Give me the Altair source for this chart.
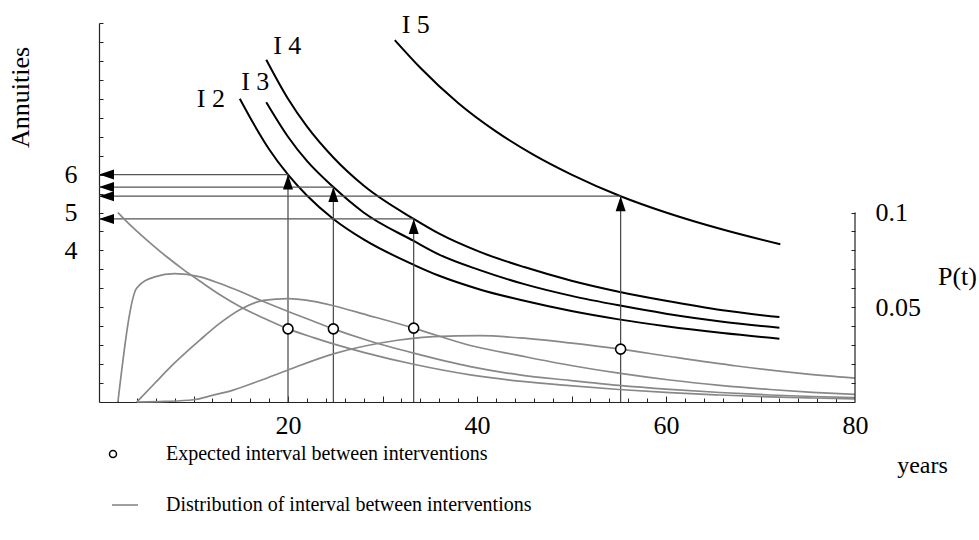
import altair as alt
import pandas as pd

FONT = "Liberation Serif"

# ---------------- data ----------------
curve_names = ["I 2", "I 3", "I 4", "I 5"]

# annuity curves (left axis)
i2_t = [14.9, 16, 18, 20, 22, 24.8, 28, 33.3, 36, 40.3, 45, 50, 55, 60, 66, 72]
i2_a = [8.0, 7.5, 6.67, 6.0, 5.45, 4.83, 4.29, 3.62, 3.33, 2.97, 2.67, 2.4, 2.18, 2.0, 1.82, 1.67]
i3_t = [17.7, 20, 22, 24.8, 28, 33.3, 36, 40.3, 45, 50, 55, 60, 66, 72]
i3_a = [7.91, 7.0, 6.36, 5.67, 5.0, 4.25, 3.89, 3.48, 3.11, 2.8, 2.55, 2.33, 2.12, 1.96]
i4_t = [17.7, 20, 22, 24.8, 28, 33.3, 36, 40.3, 45, 50, 55, 60, 66, 72]
i4_a = [9.03, 8.0, 7.27, 6.45, 5.71, 4.83, 4.44, 3.96, 3.56, 3.2, 2.91, 2.67, 2.42, 2.24]
i5_t = [31.3, 34, 38, 42, 46, 50, 55.2, 60, 66, 72.1]
i5_a = [9.55, 8.82, 7.89, 7.14, 6.52, 6.0, 5.43, 5.0, 4.55, 4.16]

# distributions of interval (right axis)
g2_t = [2, 3.6, 5.4, 7.2, 8.9, 10.7, 12.8, 14.9, 17.4, 20, 22.7, 24.8, 28.3, 33.3, 39.3, 44.5, 49.8, 55, 60.4, 65.7, 71, 75.5, 80]
g2_p = [0.100, 0.092, 0.084, 0.0765, 0.070, 0.0637, 0.0566, 0.0504, 0.0443, 0.0386, 0.034, 0.0307, 0.0258, 0.0199,
        0.0143, 0.0110, 0.0086, 0.0066, 0.0049, 0.0037, 0.0027, 0.0021, 0.0016]
g3_t = [2, 4.0, 5.9, 8.0, 10.7, 12.8, 14.9, 17.4, 20, 22.7, 24.8, 28.3, 33.3, 39.3, 44.5, 49.8, 55, 60.4, 65.7, 71, 75.5, 80]
g3_p = [0, 0.0602, 0.066, 0.0677, 0.066, 0.0625, 0.0584, 0.053, 0.0478, 0.0426, 0.0386, 0.0327, 0.0258, 0.0187,
        0.0143, 0.0114, 0.0088, 0.0067, 0.005, 0.0037, 0.0029, 0.0023]
g4_t = [4.0, 5.9, 8.0, 10.7, 12.8, 14.9, 17.4, 20, 22.7, 24.8, 28.3, 33.3, 39.3, 44.5, 49.8, 55, 60.4, 65.7, 71, 75.5, 80]
g4_p = [0, 0.0099, 0.0206, 0.0328, 0.0416, 0.0487, 0.0536, 0.0545, 0.0531, 0.0508, 0.046, 0.039, 0.0298, 0.0245,
        0.0194, 0.0152, 0.0116, 0.0088, 0.0066, 0.0051, 0.0040]
g5_t = [4.0, 7.0, 10.0, 12.0, 14.2, 17.0, 20, 24.8, 30.1, 35.4, 40.3, 44.6, 49.8, 55.2, 60.4, 67.5, 74.5, 80]
g5_p = [0, 0.0003, 0.0012, 0.0035, 0.0063, 0.0112, 0.0169, 0.0254, 0.0314, 0.0345, 0.0350, 0.0338, 0.0312,
        0.0279, 0.0240, 0.0190, 0.0150, 0.0126]

# expected intervals
mean_t = [20.0, 24.8, 33.3, 55.2]
mean_p = [0.0386, 0.0386, 0.039, 0.0279]
mean_a = [6.0, 5.67, 4.83, 5.43]

x_labels = [20, 40, 60, 80]
left_labels = [4, 5, 6]
right_labels = [0.05, 0.1]
legend_point = "Expected interval between interventions"
legend_line = "Distribution of interval between interventions"

# ---------------- tables ----------------
def frame(name, ts, vs, col):
    return pd.DataFrame({"curve": name, "t": ts, col: vs})

annu_df = pd.concat([frame(n, t, a, "a") for n, t, a in
                     zip(curve_names, [i2_t, i3_t, i4_t, i5_t], [i2_a, i3_a, i4_a, i5_a])], ignore_index=True)
dist_df = pd.concat([frame(n, t, p, "p") for n, t, p in
                     zip(curve_names, [g2_t, g3_t, g4_t, g5_t], [g2_p, g3_p, g4_p, g5_p])], ignore_index=True)
dist_df["kind"] = legend_line
mean_df = pd.DataFrame({"curve": curve_names, "t": mean_t, "p": mean_p, "a": mean_a, "mk": legend_point})
frame_df = pd.DataFrame({"t": [x_labels[-1]], "lo": [0.0], "hi": [right_labels[-1]]})

X = alt.Scale(domain=[0, 80], nice=False, zero=False)
YA = alt.Scale(domain=[0, 10], nice=False)
YP = alt.Scale(domain=[0, 0.2], nice=False)

x_minor = list(range(2, 80, 2))
x_major = list(range(10, 80, 10))
left_minor = [k / 2 for k in range(1, 21)]
right_minor = [k / 100 for k in range(1, 11)]

UP = "M0,0L-0.667,2L0.667,2Z"
LEFT = "M0,0L2,-0.667L2,0.667Z"

# ---------------- annuity layers ----------------
black = alt.Chart(annu_df).mark_line(color="black", strokeWidth=2, interpolate="monotone").encode(
    x=alt.X("t:Q", scale=X, axis=alt.Axis(
        orient="bottom", values=x_labels, tickSize=0, labelPadding=10, labelFlush=False,
        domain=True, title="years", titleX=823, titleY=63, titleAngle=0, titleFontSize=24,
        titleAlign="center", titleBaseline="middle")),
    y=alt.Y("a:Q", scale=YA, axis=alt.Axis(
        orient="left", values=left_labels, tickSize=0, labelPadding=22, domain=True,
        title="Annuities", titleAngle=270, titleX=-79, titleY=74,
        titleAlign="center", titleBaseline="middle")),
    detail="curve:N",
)

vrule = alt.Chart(mean_df).transform_calculate(zero="0").mark_rule(color="#444444", strokeWidth=1.2).encode(
    x=alt.X("t:Q", scale=X, axis=alt.Axis(orient="bottom", values=x_minor, tickSize=4, offset=-4,
                                          labels=False, domain=False, title=None)),
    y=alt.Y("zero:Q", scale=YA, axis=alt.Axis(orient="left", values=left_minor, tickSize=4, offset=-4,
                                              labels=False, domain=False, title=None)),
    y2="a:Q",
)

hrule = alt.Chart(mean_df).transform_calculate(zero="0").mark_rule(color="#555555", strokeWidth=1.2).encode(
    x=alt.X("zero:Q", scale=X, axis=alt.Axis(orient="bottom", values=x_major, tickSize=6, offset=-6,
                                             labels=False, domain=False, title=None)),
    x2="t:Q",
    y=alt.Y("a:Q", scale=YA, axis=None),
)

up = alt.Chart(mean_df).mark_point(shape=UP, size=225, filled=True, color="black", opacity=1).encode(
    x=alt.X("t:Q", scale=X, axis=None), y=alt.Y("a:Q", scale=YA, axis=None))

left = alt.Chart(mean_df).transform_calculate(zero="0").mark_point(
    shape=LEFT, size=225, filled=True, color="black", opacity=1).encode(
    x=alt.X("zero:Q", scale=X, axis=None), y=alt.Y("a:Q", scale=YA, axis=None))

label_offsets = {"I 2": (-29, 0), "I 3": (-11, -20), "I 4": (21, -14), "I 5": (21, -15)}
label_layers = []
for n, ts, as_ in zip(curve_names, [i2_t, i3_t, i4_t, i5_t], [i2_a, i3_a, i4_a, i5_a]):
    dx, dy = label_offsets[n]
    label_layers.append(
        alt.Chart(pd.DataFrame({"t": [ts[0]], "a": [as_[0]], "name": [n]})).mark_text(
            font=FONT, fontSize=26, color="black", dx=dx, dy=dy, align="center", baseline="middle"
        ).encode(x=alt.X("t:Q", scale=X, axis=None), y=alt.Y("a:Q", scale=YA, axis=None), text="name:N")
    )

annu = alt.layer(black, vrule, hrule, up, left, *label_layers).resolve_axis(x="independent", y="independent")

# ---------------- probability layers ----------------
gray = alt.Chart(dist_df).mark_line(strokeWidth=1.7, interpolate="monotone").encode(
    x=alt.X("t:Q", scale=X, axis=None),
    y=alt.Y("p:Q", scale=YP, axis=alt.Axis(
        orient="right", values=right_labels, format="~g", tickSize=0, labelPadding=20, domain=False,
        title="P(t)", titleAngle=0, titleX=102, titleY=253, titleAlign="center", titleBaseline="middle")),
    color=alt.Color("kind:N", scale=alt.Scale(range=["#888888"]), legend=alt.Legend(
        orient="none", legendX=12, legendY=468, title=None, symbolType="stroke", symbolSize=676,
        symbolStrokeWidth=1.6, labelOffset=27, padding=0)),
    detail="curve:N",
)

circles = alt.Chart(mean_df).mark_point(shape="circle", filled=False, fill="white", strokeWidth=1.6,
                                        size=100, opacity=1).encode(
    x=alt.X("t:Q", scale=X, axis=None),
    y=alt.Y("p:Q", scale=YP, axis=alt.Axis(orient="right", values=right_minor, tickSize=4, offset=-4,
                                           labels=False, domain=False, title=None)),
    stroke=alt.Stroke("mk:N", scale=alt.Scale(range=["black"]), legend=alt.Legend(
        orient="none", legendX=4, legendY=421, title=None, symbolType="circle", symbolSize=49,
        symbolFillColor="white", symbolStrokeWidth=1.5, symbolOpacity=1, labelOffset=43, padding=0)),
)

rframe = alt.Chart(frame_df).mark_rule(color="#222222", strokeWidth=1.2).encode(
    x=alt.X("t:Q", scale=X, axis=None), y=alt.Y("lo:Q", scale=YP, axis=None), y2="hi:Q")

prob = alt.layer(gray, rframe, circles).resolve_axis(y="independent")

chart = alt.layer(annu, prob).resolve_scale(y="independent").resolve_axis(x="independent", y="independent").properties(
    width=756, height=379,
    autosize=alt.AutoSizeParams(type="none"),
    padding={"left": 99, "top": 23, "right": 124, "bottom": 138},
).configure_view(stroke=None).configure_axis(
    grid=False, labelFont=FONT, titleFont=FONT, labelFontSize=26, titleFontSize=26,
    labelColor="black", titleColor="black", titleFontWeight="normal",
    domainColor="#222222", tickColor="#222222", domainWidth=1.2, tickWidth=1,
).configure_legend(
    labelFont=FONT, labelFontSize=20, labelColor="black", labelLimit=1000,
)

chart.save("out.html", embed_options={"renderer": "svg", "actions": False})
